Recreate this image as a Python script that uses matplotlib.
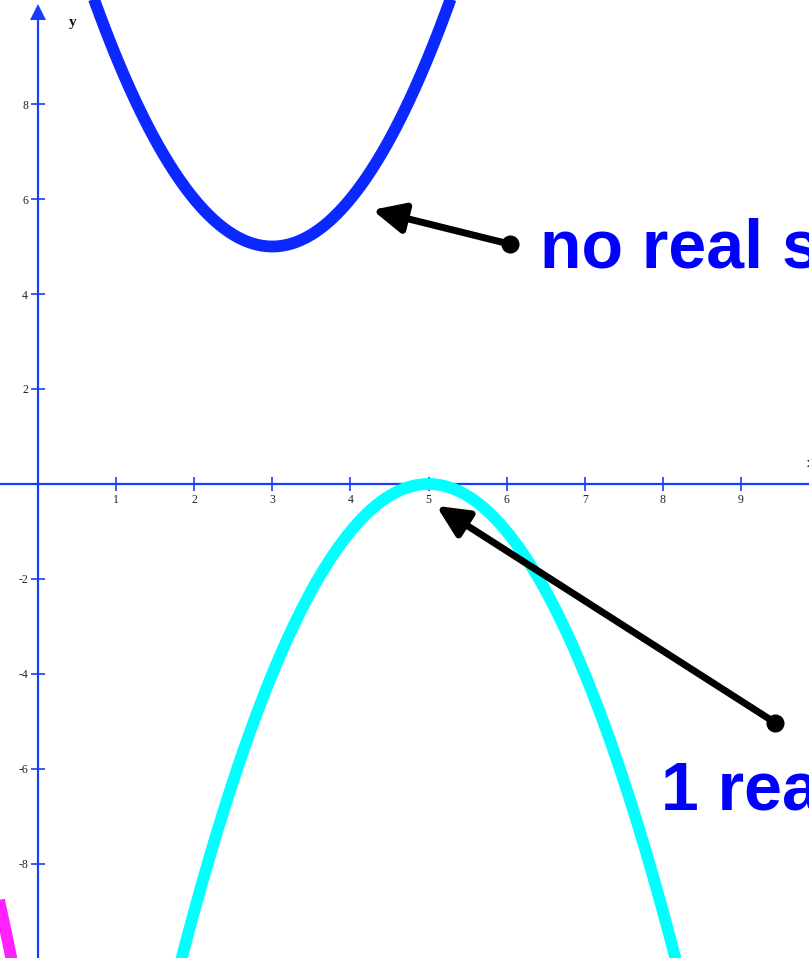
import numpy as np
import matplotlib.pyplot as plt

plt.rcParams['axes.unicode_minus'] = False

# parabolas: y = a*(x-h)^2 + k
curves = {
    'none': dict(a=1.0, h=3.0, k=5.0, color='#0a28ff'),
    'one': dict(a=-1.0, h=5.0, k=0.0, color='#00ffff'),
    'two': dict(a=-1.0, h=-4.3, k=5.7, color='#ff22ff'),
}
x_ticks = [1, 2, 3, 4, 5, 6, 7, 8, 9]
y_ticks = [-8, -6, -4, -2, 2, 4, 6, 8]

labels = ['no real solutions', '1 real solution']
label_xy = [(6.43, 4.55), (7.97, -6.86)]
arrow_tail = [(6.04, 5.05), (9.44, -5.03)]
arrow_head = [(4.28, 5.77), (5.10, -0.46)]

axis_blue = '#1a3cff'

fig = plt.figure(figsize=(8.09, 9.58), dpi=100)
ax = fig.add_axes([0, 0, 1, 1])
ax.set_xlim(-0.485, 9.87)
ax.set_ylim(-9.98, 10.19)

xs = np.linspace(-0.6, 10, 800)
for c in curves.values():
    ax.plot(xs, c['a'] * (xs - c['h']) ** 2 + c['k'], color=c['color'],
            lw=8.5, solid_capstyle='butt', zorder=3)

# axes through the origin
for side in ['top', 'right']:
    ax.spines[side].set_visible(False)
ax.spines['left'].set_position(('data', 0))
ax.spines['bottom'].set_position(('data', 0))
for side in ['left', 'bottom']:
    ax.spines[side].set_color(axis_blue)
    ax.spines[side].set_linewidth(1.6)
    ax.spines[side].set_zorder(2)
ax.spines['left'].set_bounds(-10.5, 9.9)

ax.set_xticks(x_ticks)
ax.set_yticks(y_ticks)
ax.tick_params(direction='inout', length=10, width=1.2, color=axis_blue,
               labelsize=8.5, pad=2, labelcolor='#222222')
for t in ax.get_xticklabels() + ax.get_yticklabels():
    t.set_family('Liberation Serif')

# arrow tip on y axis
ax.plot([0], [9.93], marker='^', ms=11, color=axis_blue, mew=0,
        clip_on=False, zorder=4)
ax.text(0.4, 9.65, 'y', family='Liberation Serif', fontweight='bold',
        fontsize=11, color='#111111')
ax.text(9.85, 0.35, 'x', family='Liberation Serif', fontweight='bold',
        fontsize=11, color='#111111')

# annotations
for (tx, ty), (hx, hy) in zip(arrow_tail, arrow_head):
    ax.annotate('', xy=(hx, hy), xytext=(tx, ty),
                arrowprops=dict(arrowstyle='-|>,head_length=0.95,head_width=0.45',
                                mutation_scale=20, color='black', lw=5,
                                shrinkA=0, shrinkB=0),
                zorder=5)
    ax.plot([tx], [ty], 'o', color='black', ms=12, zorder=6)

for txt, (lx, ly) in zip(labels, label_xy):
    ax.text(lx, ly, txt, family='Liberation Sans', fontweight='bold',
            fontsize=49, color='#0000ff', ha='left', va='baseline', zorder=6)

plt.savefig('out.png', dpi=100)
